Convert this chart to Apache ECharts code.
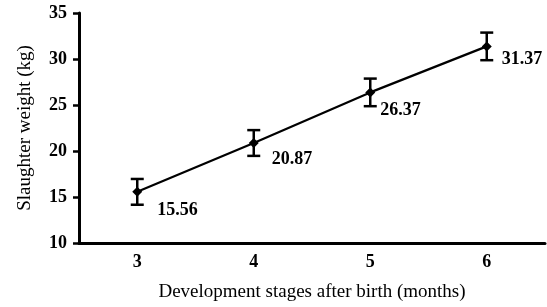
<!DOCTYPE html>
<html lang="en">
<head>
    <meta charset="UTF-8">
    <title>Slaughter weight</title>
    <script src="https://cdn.jsdelivr.net/npm/echarts@6/dist/echarts.min.js"></script>
</head>
<body style="margin:0">
<div id="chart" style="width:547px;height:307px"></div>
<script>
    var months = ['3', '4', '5', '6'];
    var weights = [15.56, 20.87, 26.37, 31.37];
    var errors = [1.4, 1.4, 1.5, 1.5];

    var myChart = echarts.init(document.getElementById('chart'));
    var font = 'Liberation Serif';
    // nudge each value label a bit, like the original figure
    var labelShift = [[10, 18], [8, 16], [0, 18], [5, 13]];

    var lineData = weights.map(function (v, i) {
        return { value: v, label: { offset: labelShift[i] } };
    });
    var errData = weights.map(function (v, i) {
        return [i, v - errors[i], v + errors[i]];
    });

    var option = {
        animation: false,
        grid: { left: 79, right: 2, top: 13, bottom: 58 },
        xAxis: {
            type: 'category',
            data: months,
            boundaryGap: true,
            name: 'Development stages after birth (months)',
            nameLocation: 'middle',
            nameGap: 40,
            nameTextStyle: { fontFamily: font, fontSize: 19, color: '#000' },
            axisLine: { lineStyle: { color: '#000', width: 3 } },
            axisTick: { length: 5, lineStyle: { color: '#000', width: 2.5 } },
            axisLabel: { fontFamily: font, fontWeight: 'bold', fontSize: 18, color: '#000', margin: 10 }
        },
        yAxis: {
            type: 'value',
            min: 10,
            max: 35,
            interval: 5,
            name: 'Slaughter weight (kg)',
            nameLocation: 'middle',
            nameGap: 44,
            nameTextStyle: { fontFamily: font, fontSize: 19, color: '#000' },
            splitLine: { show: false },
            axisLine: { show: true, lineStyle: { color: '#000', width: 3 } },
            axisTick: { show: true, length: 6, lineStyle: { color: '#000', width: 2.5 } },
            axisLabel: { fontFamily: font, fontWeight: 'bold', fontSize: 18, color: '#000', margin: 12 }
        },
        series: [
            {
                type: 'line',
                data: lineData,
                symbol: 'diamond',
                symbolSize: 10,
                itemStyle: { color: '#000' },
                lineStyle: { color: '#000', width: 2.2 },
                label: {
                    show: true,
                    position: 'right',
                    fontFamily: font,
                    fontWeight: 'bold',
                    fontSize: 18,
                    color: '#000'
                },
                z: 3
            },
            {
                type: 'custom',
                data: errData,
                renderItem: function (params, api) {
                    var lo = api.coord([api.value(0), api.value(1)]);
                    var hi = api.coord([api.value(0), api.value(2)]);
                    var w = 6.5;
                    var style = { stroke: '#000', lineWidth: 2.5 };
                    return {
                        type: 'group',
                        children: [
                            { type: 'line', shape: { x1: lo[0], y1: lo[1], x2: hi[0], y2: hi[1] }, style: style },
                            { type: 'line', shape: { x1: lo[0] - w, y1: lo[1], x2: lo[0] + w, y2: lo[1] }, style: style },
                            { type: 'line', shape: { x1: hi[0] - w, y1: hi[1], x2: hi[0] + w, y2: hi[1] }, style: style }
                        ]
                    };
                },
                z: 2
            }
        ]
    };
    myChart.setOption(option);
</script>
</body>
</html>
